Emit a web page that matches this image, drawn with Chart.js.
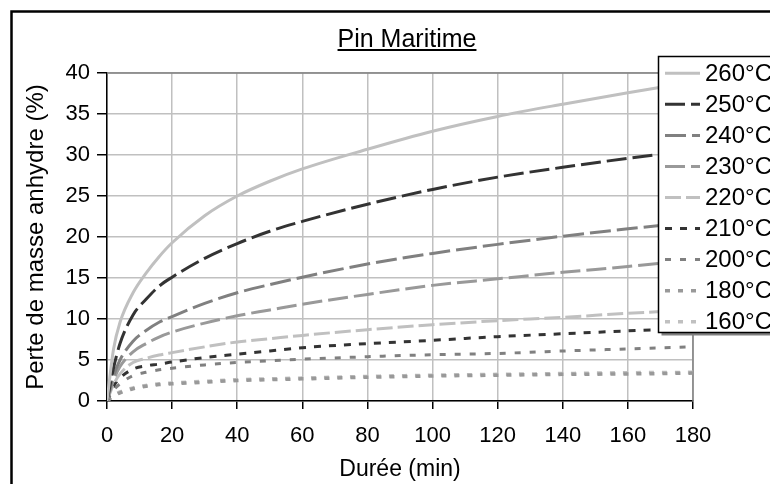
<!DOCTYPE html>
<html>
<head>
<meta charset="utf-8">
<script src="https://cdn.jsdelivr.net/npm/chart.js@4/dist/chart.umd.min.js"></script>
<style>
  html, body { margin: 0; padding: 0; background: #fff; }
  canvas { display: block; }
</style>
</head>
<body>
<canvas id="chart" width="770" height="484"></canvas>
<script>
'use strict'

// durées (min)
const durees = [0, 2, 4, 8, 12, 16, 20, 30, 40, 50, 60, 80, 100, 120, 140, 160, 180];
// perte de masse (%) par température
const perte260 = [0, 6.3, 9.6, 13.2, 15.6, 17.6, 19.3, 22.6, 25.0, 26.8, 28.3, 30.7, 32.9, 34.7, 36.2, 37.6, 38.9];
const perte250 = [0, 4.0, 7.0, 10.5, 12.4, 14.0, 15.1, 17.4, 19.2, 20.7, 21.9, 24.0, 25.8, 27.3, 28.5, 29.6, 30.6];
const perte240 = [0, 3.0, 5.0, 7.3, 8.6, 9.6, 10.3, 11.9, 13.2, 14.2, 15.1, 16.7, 18.0, 19.1, 20.1, 21.0, 21.8];
const perte230 = [0, 2.5, 4.2, 6.0, 7.0, 7.8, 8.4, 9.5, 10.4, 11.1, 11.8, 13.0, 14.1, 14.9, 15.7, 16.4, 17.2];
const perte220 = [0, 2.0, 3.3, 4.7, 5.2, 5.6, 5.9, 6.6, 7.2, 7.6, 8.0, 8.7, 9.3, 9.8, 10.2, 10.7, 11.1];
const perte210 = [0, 1.8, 2.8, 3.9, 4.3, 4.5, 4.75, 5.3, 5.7, 6.1, 6.5, 7.0, 7.4, 7.85, 8.2, 8.55, 8.9];
const perte200 = [0, 1.3, 2.1, 3.1, 3.5, 3.8, 4.0, 4.4, 4.7, 4.9, 5.1, 5.4, 5.65, 5.8, 6.1, 6.35, 6.6];
const perte180 = [0, 0.6, 1.0, 1.5, 1.8, 2.0, 2.1, 2.3, 2.5, 2.6, 2.7, 2.9, 3.05, 3.15, 3.25, 3.3, 3.4];
const perte160 = [0, 0.7, 1.1, 1.6, 1.9, 2.1, 2.2, 2.4, 2.6, 2.7, 2.8, 3.0, 3.15, 3.25, 3.35, 3.45, 3.5];

const temperatures = ['260°C', '250°C', '240°C', '230°C', '220°C', '210°C', '200°C', '180°C', '160°C'];
const series = [perte260, perte250, perte240, perte230, perte220, perte210, perte200, perte180, perte160];
const couleurs = ['#c0c0c0', '#333333', '#808080', '#999999', '#c0c0c0', '#333333', '#808080', '#999999', '#c0c0c0'];
const tirets = [[], [20, 6], [21, 6], [20, 6], [16, 5], [7, 8], [6, 9], [5, 8], [5, 8]];

const yTicks = [0, 5, 10, 15, 20, 25, 30, 35, 40];
const xTicks = [0, 20, 40, 60, 80, 100, 120, 140, 160, 180];

const police = '"Liberation Sans", Arial, sans-serif';

//titre souligné + cadre extérieur
const decorPlugin = {
    id: 'decor',
    beforeDatasetsDraw(chart) {
        const ctx = chart.ctx;
        const a = chart.chartArea;
        ctx.save();
        ctx.strokeStyle = '#808080';
        ctx.lineWidth = 1.5;
        ctx.beginPath();
        ctx.moveTo(a.left, a.top);
        ctx.lineTo(a.right, a.top);
        ctx.lineTo(a.right, a.bottom);
        ctx.stroke();
        ctx.restore();
    },
    afterDraw(chart) {
        const ctx = chart.ctx;
        ctx.save();
        // cadre
        ctx.strokeStyle = '#000';
        ctx.lineWidth = 2.5;
        ctx.strokeRect(11.5, 11.5, 900, 600);
        // titre
        ctx.font = '25px ' + police;
        ctx.fillStyle = '#000';
        ctx.textAlign = 'center';
        ctx.textBaseline = 'alphabetic';
        const titre = 'Pin Maritime';
        const tx = 407;
        ctx.fillText(titre, tx, 46.5);
        const w = ctx.measureText(titre).width;
        ctx.lineWidth = 2;
        ctx.beginPath();
        ctx.moveTo(tx - w / 2, 50);
        ctx.lineTo(tx + w / 2, 50);
        ctx.stroke();
        ctx.restore();
    }
};

//légende dessinée à droite
const legendPlugin = {
    id: 'legendeBox',
    afterDraw(chart) {
        const ctx = chart.ctx;
        const x0 = 658.5, y0 = 56.5, h = 276;
        ctx.save();
        ctx.fillStyle = '#808080';
        ctx.fillRect(x0 + 3, y0 + 3, 200, h);
        ctx.fillStyle = '#fff';
        ctx.fillRect(x0, y0, 200, h);
        ctx.strokeStyle = '#000';
        ctx.lineWidth = 1.5;
        ctx.strokeRect(x0, y0, 200, h);
        chart.data.datasets.forEach((ds, i) => {
            const y = 73.3 + i * 31.05;
            ctx.strokeStyle = ds.borderColor;
            ctx.lineWidth = ds.borderWidth;
            ctx.setLineDash(ds.borderDash.length ? ds.borderDash : []);
            ctx.beginPath();
            ctx.moveTo(665, y);
            ctx.lineTo(700, y);
            ctx.stroke();
            ctx.setLineDash([]);
            ctx.fillStyle = '#000';
            ctx.font = '24px ' + police;
            ctx.textAlign = 'left';
            ctx.textBaseline = 'middle';
            ctx.fillText(ds.label, 705, y + 1);
        });
        ctx.restore();
    }
};

const datasets = series.map((vals, i) => ({
    label: temperatures[i],
    data: vals.map((v, j) => ({ x: durees[j], y: v })),
    borderColor: couleurs[i],
    borderWidth: i >= 7 ? 3.5 : 3,
    borderDash: tirets[i],
    borderCapStyle: 'butt',
    pointRadius: 0,
    fill: false,
    cubicInterpolationMode: 'monotone'
}));

new Chart(document.getElementById('chart'), {
    type: 'line',
    data: { datasets: datasets },
    options: {
        responsive: false,
        animation: false,
        devicePixelRatio: 1,
        layout: { padding: { left: 14, right: 77, top: 73, bottom: 0 } },
        plugins: {
            legend: { display: false },
            title: { display: false },
            tooltip: { enabled: false }
        },
        scales: {
            x: {
                type: 'linear',
                min: 0,
                max: 180,
                afterFit(scale) { scale.height = 83; },
                afterBuildTicks(scale) { scale.ticks = xTicks.map(v => ({ value: v })); },
                grid: { color: '#c0c0c0', lineWidth: 1.5, tickColor: '#000', tickLength: 8 },
                border: { color: '#000', width: 1.5 },
                ticks: { color: '#000', font: { family: police, size: 22 }, padding: 14, maxRotation: 0 },
                title: {
                    display: true,
                    text: 'Durée (min)',
                    color: '#000',
                    font: { family: police, size: 23 },
                    padding: { top: 0, bottom: 1 }
                }
            },
            y: {
                min: 0,
                max: 40,
                afterFit(scale) { scale.width = 93; },
                afterBuildTicks(scale) { scale.ticks = yTicks.map(v => ({ value: v })); },
                grid: { color: '#c0c0c0', lineWidth: 1.5, tickColor: '#000', tickLength: 10 },
                border: { color: '#000', width: 1.5 },
                ticks: { color: '#000', font: { family: police, size: 22 }, padding: 7 },
                title: {
                    display: true,
                    text: 'Perte de masse anhydre (%)',
                    color: '#000',
                    font: { family: police, size: 24 },
                    padding: { top: 8, bottom: 0 }
                }
            }
        }
    },
    plugins: [decorPlugin, legendPlugin]
});
</script>
</body>
</html>
